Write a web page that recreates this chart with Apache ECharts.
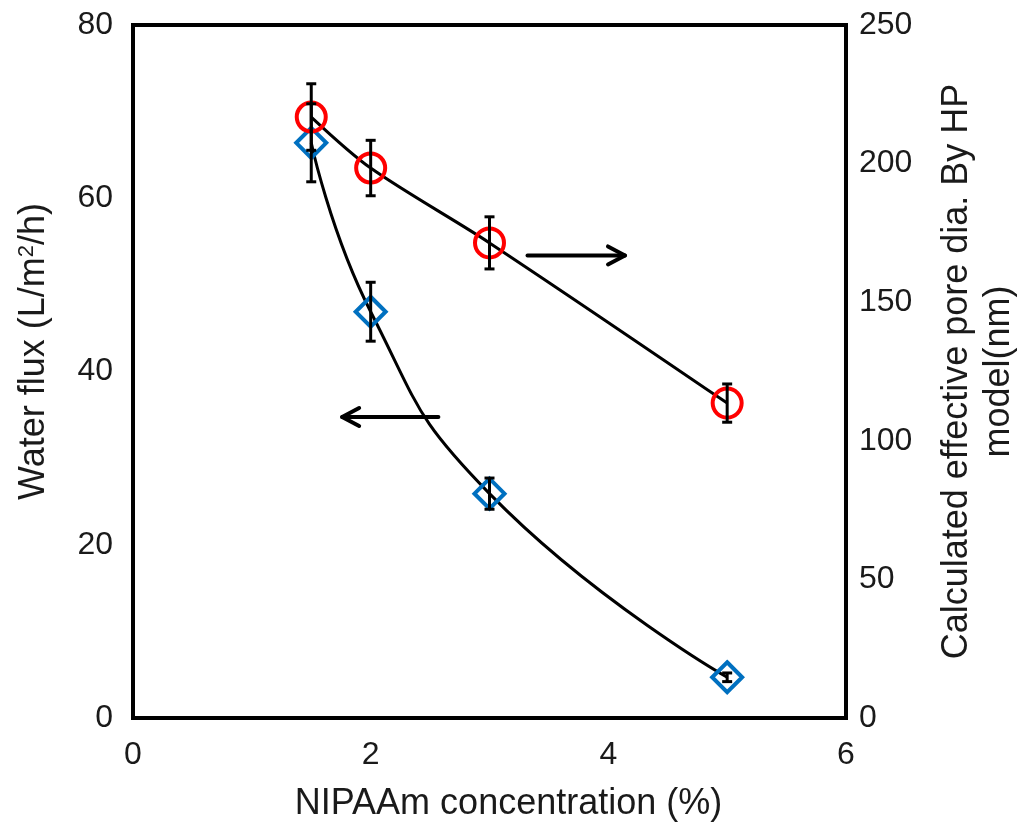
<!DOCTYPE html>
<html>
<head>
<meta charset="utf-8">
<script src="https://cdn.jsdelivr.net/npm/echarts@6/dist/echarts.min.js"></script>
<style>html,body{margin:0;padding:0;background:#fff;}#c{width:1023px;height:824px;}</style>
</head>
<body>
<div id="c"></div>
<script>
// ---- data ----
const concentration = [1.5, 2, 3, 5];
const waterFlux = [66.4, 46.9, 25.9, 4.7];
const waterFluxErr = [4.5, 3.4, 1.8, 0.5];
const poreDia = [216.8, 198.4, 171.4, 113.6];
const poreDiaErr = [12, 10, 9.4, 6.9];
const xTicks = [0, 2, 4, 6];
const leftTicks = [0, 20, 40, 60, 80];
const rightTicks = [0, 50, 100, 150, 200, 250];
// arrows: [xStart, yStart(left axis), xEnd, yEnd]
const arrows = [[3.32, 53.4, 4.14, 53.4], [2.57, 34.75, 1.76, 34.75]];

const FONT = 'Liberation Sans, Arial, sans-serif';
const TXT = '#1a1a1a';
const TICK_FS = 32;
const TITLE_FS = 36;

function errSeries(vals, errs, yIdx) {
  return {
    type: 'custom', yAxisIndex: yIdx, z: 3,
    data: concentration.map((x, i) => [x, vals[i] - errs[i], vals[i] + errs[i]]),
    renderItem: function (params, api) {
      const lo = api.coord([api.value(0), api.value(1)]);
      const hi = api.coord([api.value(0), api.value(2)]);
      const w = 5;
      const st = { stroke: '#000', lineWidth: 3 };
      return { type: 'group', children: [
        { type: 'line', shape: { x1: lo[0], y1: lo[1], x2: hi[0], y2: hi[1] }, style: st },
        { type: 'line', shape: { x1: lo[0] - w, y1: lo[1], x2: lo[0] + w, y2: lo[1] }, style: st },
        { type: 'line', shape: { x1: hi[0] - w, y1: hi[1], x2: hi[0] + w, y2: hi[1] }, style: st }
      ]};
    }
  };
}

const chart = echarts.init(document.getElementById('c'));
chart.setOption({
  backgroundColor: '#fff',
  animation: false,
  grid: { left: 133, right: 177, top: 25, bottom: 106, containLabel: false, outerBoundsMode: 'none',
    show: true, borderColor: '#000', borderWidth: 4, backgroundColor: 'transparent' },
  xAxis: {
    type: 'value', min: xTicks[0], max: xTicks[xTicks.length - 1], interval: 2,
    name: 'NIPAAm concentration (%)', nameLocation: 'middle', nameGap: 68,
    nameTextStyle: { fontFamily: FONT, fontSize: TITLE_FS, color: TXT, padding: [0, 0, 0, 38] },
    axisLine: { show: true, lineStyle: { color: '#000', width: 4 } },
    axisTick: { show: false }, splitLine: { show: false },
    axisLabel: { fontFamily: FONT, fontSize: TICK_FS, color: TXT, margin: 21 }
  },
  yAxis: [{
    type: 'value', min: leftTicks[0], max: leftTicks[leftTicks.length - 1], interval: 20,
    name: 'Water flux (L/m{sup|2}/h)', nameLocation: 'middle', nameGap: 81, nameRotate: 90,
    nameTextStyle: { fontFamily: FONT, fontSize: TITLE_FS, color: TXT, padding: [0, 0, 0, 40],
      rich: { sup: { fontFamily: FONT, fontSize: 22, color: TXT, verticalAlign: 'top', lineHeight: 36 } } },
    axisLine: { show: true, lineStyle: { color: '#000', width: 4 } },
    axisTick: { show: false }, splitLine: { show: false },
    axisLabel: { fontFamily: FONT, fontSize: TICK_FS, color: TXT, margin: 20 }
  }, {
    type: 'value', position: 'right', min: rightTicks[0], max: rightTicks[rightTicks.length - 1], interval: 50,
    name: 'Calculated effective pore dia. By HP\nmodel(nm)', nameLocation: 'middle', nameGap: 90, nameRotate: 90,
    nameTextStyle: { fontFamily: FONT, fontSize: TITLE_FS, color: TXT, lineHeight: 42, align: 'center' },
    axisLine: { show: true, lineStyle: { color: '#000', width: 4 } },
    axisTick: { show: false }, splitLine: { show: false },
    axisLabel: { fontFamily: FONT, fontSize: TICK_FS, color: TXT, margin: 13 }
  }],
  series: [
    {
      type: 'line', yAxisIndex: 0, smooth: 0.5, z: 2,
      data: concentration.map((x, i) => [x, waterFlux[i]]),
      lineStyle: { color: '#000', width: 3 },
      symbol: 'diamond', symbolSize: 30,
      itemStyle: { color: 'rgba(0,0,0,0)', borderColor: '#0070C0', borderWidth: 4 }
    },
    {
      type: 'line', yAxisIndex: 1, smooth: 0.3, z: 2,
      data: concentration.map((x, i) => [x, poreDia[i]]),
      lineStyle: { color: '#000', width: 3 },
      symbol: 'circle', symbolSize: 29,
      itemStyle: { color: 'rgba(0,0,0,0)', borderColor: '#FF0000', borderWidth: 4 }
    },
    errSeries(waterFlux, waterFluxErr, 0),
    errSeries(poreDia, poreDiaErr, 1),
    {
      type: 'custom', yAxisIndex: 0, z: 4,
      data: arrows,
      renderItem: function (params, api) {
        const a = api.coord([api.value(0), api.value(1)]);
        const b = api.coord([api.value(2), api.value(3)]);
        const dir = b[0] > a[0] ? 1 : -1;
        const st = { stroke: '#000', lineWidth: 4, lineCap: 'round', lineJoin: 'round', fill: null };
        return { type: 'group', children: [
          { type: 'line', shape: { x1: a[0], y1: a[1], x2: b[0], y2: b[1] }, style: st },
          { type: 'polyline', shape: { points: [[b[0] - dir * 17, b[1] - 9], [b[0], b[1]], [b[0] - dir * 17, b[1] + 9]] }, style: st }
        ]};
      }
    }
  ]
});
</script>
</body>
</html>
